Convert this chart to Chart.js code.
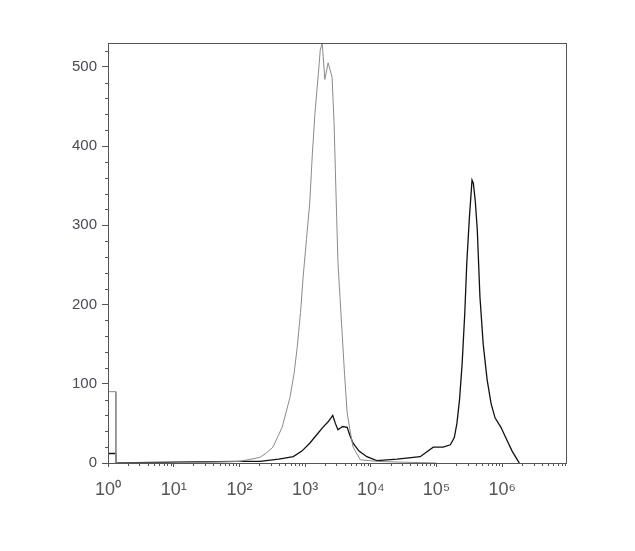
<!DOCTYPE html>
<html>
<head>
<meta charset="utf-8">
<script src="https://cdn.jsdelivr.net/npm/chart.js@4"></script>
<style>
  html, body { margin: 0; padding: 0; background: #fff; }
  #wrap { width: 635px; height: 551px; }
</style>
</head>
<body>
<div id="wrap"><canvas id="c"></canvas></div>
<script>
// x values are log10 of fluorescence intensity, y values are event counts
const controlX = [0, 0, 0.12, 0.12, 1.0, 1.5, 2.0, 2.31, 2.40, 2.51, 2.65, 2.77, 2.83, 2.88, 2.93, 2.97, 3.02, 3.07, 3.11, 3.15, 3.20, 3.23, 3.26, 3.30, 3.35, 3.41, 3.44, 3.46, 3.48, 3.50, 3.53, 3.56, 3.60, 3.64, 3.69, 3.73, 3.84, 4.1, 4.5, 5.0];
const controlY = [0, 90, 90, 0, 0, 1, 2, 7, 12, 20, 45, 83, 112, 146, 190, 235, 282, 328, 390, 442, 490, 521, 530, 484, 505, 487, 430, 370, 310, 252, 210, 168, 112, 63, 38, 20, 4, 2, 1, 0];

const stainedX = [0, 0, 0.12, 0.12, 1.0, 2.0, 2.31, 2.60, 2.82, 2.95, 3.07, 3.17, 3.27, 3.35, 3.42, 3.46, 3.50, 3.57, 3.64, 3.68, 3.73, 3.82, 3.94, 4.09, 4.4, 4.75, 4.95, 5.10, 5.21, 5.27, 5.31, 5.35, 5.39, 5.43, 5.46, 5.50, 5.54, 5.56, 5.59, 5.62, 5.66, 5.71, 5.77, 5.83, 5.89, 5.98, 6.07, 6.15, 6.23, 6.26];
const stainedY = [0, 12, 12, 0, 1, 2, 2, 5, 8, 15, 25, 35, 45, 52, 60, 50, 42, 46, 45, 35, 25, 15, 8, 3, 5, 8, 20, 20, 23, 32, 50, 80, 126, 190, 252, 310, 357, 353, 330, 294, 210, 150, 105, 75, 57, 45, 29, 15, 4, 0];

const xTicks = [0, 1, 2, 3, 4, 5, 6];
const yTicks = [0, 100, 200, 300, 400, 500];
const sup = ['⁰', '¹', '²', '³', '⁴', '⁵', '⁶'];

const pts = (xs, ys) => xs.map((x, i) => ({ x: x, y: ys[i] }));

const frame = {
  id: 'frame',
  afterDraw(chart) {
    const { ctx, chartArea: a, scales: { x, y } } = chart;
    ctx.save();
    ctx.strokeStyle = '#555';
    ctx.lineWidth = 1;
    ctx.strokeRect(a.left + 0.5, a.top + 0.5, a.right - a.left, a.bottom - a.top);
    ctx.beginPath();
    // minor log ticks on x
    for (let d = 0; d < 7; d++) {
      for (let k = 2; k <= 9; k++) {
        const v = d + Math.log10(k);
        if (v > x.max) continue;
        const px = Math.round(x.getPixelForValue(v)) + 0.5;
        ctx.moveTo(px, a.bottom);
        ctx.lineTo(px, a.bottom + 3);
      }
    }
    // minor ticks on y
    for (let v = 20; v <= 520; v += 20) {
      if (v % 100 === 0) continue;
      const py = Math.round(y.getPixelForValue(v)) + 0.5;
      ctx.moveTo(a.left, py);
      ctx.lineTo(a.left - 3, py);
    }
    ctx.stroke();
    ctx.restore();
  }
};

new Chart(document.getElementById('c'), {
  type: 'line',
  data: {
    datasets: [
      { data: pts(controlX, controlY), borderColor: '#8a8a8a', borderWidth: 1, pointRadius: 0, tension: 0 },
      { data: pts(stainedX, stainedY), borderColor: '#111', borderWidth: 1.3, pointRadius: 0, tension: 0 }
    ]
  },
  plugins: [frame],
  options: {
    responsive: true,
    maintainAspectRatio: false,
    animation: false,
    layout: { padding: { left: 0, top: 43, right: 69, bottom: 0 } },
    plugins: { legend: { display: false }, tooltip: { enabled: false } },
    scales: {
      x: {
        type: 'linear', min: 0, max: 6.97,
        afterFit: s => { s.height = 88; },
        afterBuildTicks: s => { s.ticks = xTicks.map(v => ({ value: v })); },
        grid: { drawOnChartArea: false, tickLength: 4, color: '#555' },
        border: { display: false },
        ticks: { color: '#555', font: { family: 'Liberation Sans', size: 18 }, padding: 12,
                 callback: v => '10' + sup[v] }
      },
      y: {
        min: 0, max: 530,
        afterFit: s => { s.width = 108; },
        afterBuildTicks: s => { s.ticks = yTicks.map(v => ({ value: v })); },
        grid: { drawOnChartArea: false, tickLength: 6, color: '#555' },
        border: { display: false },
        ticks: { color: '#4a4a5a', font: { family: 'Liberation Sans', size: 15 }, padding: 5 }
      }
    }
  }
});
</script>
</body>
</html>
